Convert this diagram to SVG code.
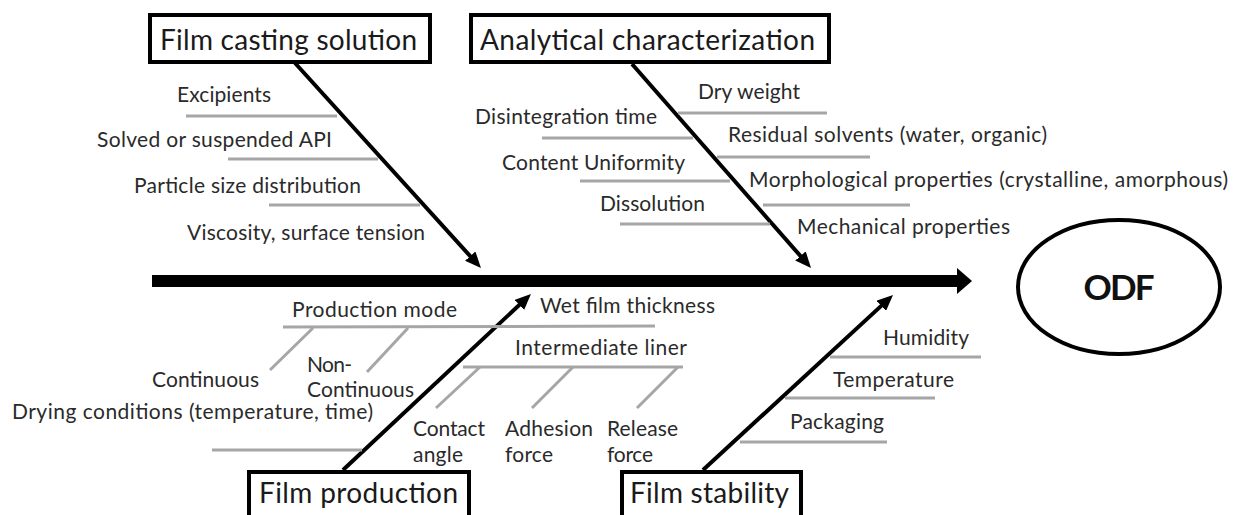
<svg xmlns="http://www.w3.org/2000/svg" width="1235" height="515" viewBox="0 0 1235 515">
<style>
.t{font-family:Lato,"Open Sans","Liberation Sans",sans-serif;font-size:21px;fill:#2a2a2a}
.bt{font-family:Lato,"Open Sans","Liberation Sans",sans-serif;font-size:28px;fill:#1a1a1a}
.box{fill:#fff;stroke:#000;stroke-width:4}
.g{stroke:#a6a6a6;stroke-width:3;fill:none}
.d{stroke:#000;stroke-width:4;fill:none;marker-end:url(#ah)}
</style>
<defs>
<marker id="ah" markerUnits="userSpaceOnUse" markerWidth="16" markerHeight="14" refX="4" refY="7" orient="auto"><path d="M0,0 L16,7 L0,14 z" fill="#000"/></marker>
<marker id="big" markerUnits="userSpaceOnUse" markerWidth="15" markerHeight="26" refX="0" refY="13" orient="auto"><path d="M0,0 L15,13 L0,26 z" fill="#000"/></marker>
</defs>
<rect width="1235" height="515" fill="#fff"/>
<g id="connectors">
<line x1="152" y1="281" x2="957" y2="281" stroke="#000" stroke-width="12" marker-end="url(#big)"/>
<line class="d" x1="295" y1="63" x2="472.9" y2="259.1"/>
<line class="d" x1="632" y1="64" x2="803.1" y2="259"/>
<line class="d" x1="343" y1="470" x2="522.2" y2="302.2"/>
<line class="d" x1="703" y1="470" x2="884.2" y2="303.1"/>
</g>
<g id="film-casting-solution">
<rect class="box" x="150" y="15" width="280" height="47"/>
<text class="bt" x="160" y="50" textLength="257">Film casting solution</text>
<line class="g" x1="186" y1="116" x2="337" y2="116"/>
<line class="g" x1="228" y1="159" x2="378" y2="159"/>
<line class="g" x1="269" y1="205" x2="420" y2="205"/>
<text class="t" x="177" y="102" textLength="94">Excipients</text>
<text class="t" x="97" y="147" textLength="235">Solved or suspended API</text>
<text class="t" x="134" y="193" textLength="227">Particle size distribution</text>
<text class="t" x="187" y="240" textLength="238">Viscosity, surface tension</text>
</g>
<g id="analytical-characterization">
<rect class="box" x="471" y="15" width="358" height="47"/>
<text class="bt" x="480" y="50" textLength="335">Analytical characterization</text>
<line class="g" x1="678" y1="113" x2="827" y2="113"/>
<line class="g" x1="542" y1="138" x2="693" y2="138"/>
<line class="g" x1="717" y1="157" x2="870" y2="157"/>
<line class="g" x1="580" y1="181" x2="730" y2="181"/>
<line class="g" x1="763" y1="205" x2="910" y2="205"/>
<line class="g" x1="620" y1="224" x2="770" y2="224"/>
<text class="t" x="698" y="99" textLength="102">Dry weight</text>
<text class="t" x="475" y="124" textLength="182">Disintegration time</text>
<text class="t" x="728" y="142" textLength="319">Residual solvents (water, organic)</text>
<text class="t" x="502" y="170" textLength="183">Content Uniformity</text>
<text class="t" x="749" y="187" textLength="479">Morphological properties (crystalline, amorphous)</text>
<text class="t" x="600" y="211" textLength="105">Dissolution</text>
<text class="t" x="797" y="234" textLength="213">Mechanical properties</text>
</g>
<g id="film-production">
<rect class="box" x="249" y="472" width="220" height="60"/>
<text class="bt" x="259" y="503" textLength="199">Film production</text>
<line class="g" x1="283" y1="327" x2="655" y2="326"/>
<line class="g" x1="313" y1="328" x2="270" y2="370"/>
<line class="g" x1="408" y1="328" x2="367" y2="372"/>
<line class="g" x1="212" y1="450" x2="362" y2="450"/>
<line class="g" x1="463" y1="367" x2="683" y2="367"/>
<line class="g" x1="480" y1="367" x2="436" y2="408"/>
<line class="g" x1="573" y1="367" x2="532" y2="408"/>
<line class="g" x1="678" y1="367" x2="637" y2="408"/>
<text class="t" x="292" y="317" textLength="165">Production mode</text>
<text class="t" x="540" y="313" textLength="175">Wet film thickness</text>
<text class="t" x="152" y="387" textLength="107">Continuous</text>
<text class="t" x="307" y="372" textLength="45">Non-</text>
<text class="t" x="307" y="397" textLength="107">Continuous</text>
<text class="t" x="12" y="419" textLength="361">Drying conditions (temperature, time)</text>
<text class="t" x="515" y="355" textLength="172">Intermediate liner</text>
<text class="t" x="413" y="436" textLength="72">Contact</text>
<text class="t" x="413" y="462" textLength="50">angle</text>
<text class="t" x="505" y="436" textLength="88">Adhesion</text>
<text class="t" x="505" y="462" textLength="48">force</text>
<text class="t" x="607" y="436" textLength="71">Release</text>
<text class="t" x="607" y="462" textLength="46">force</text>
</g>
<g id="film-stability">
<rect class="box" x="622" y="472" width="179" height="60"/>
<text class="bt" x="630" y="503" textLength="159">Film stability</text>
<line class="g" x1="830" y1="357" x2="981" y2="357"/>
<line class="g" x1="785" y1="398" x2="935" y2="398"/>
<line class="g" x1="740" y1="442" x2="887" y2="442"/>
<text class="t" x="883" y="345" textLength="86">Humidity</text>
<text class="t" x="833" y="387" textLength="121">Temperature</text>
<text class="t" x="790" y="429" textLength="94">Packaging</text>
</g>
<g id="odf">
<ellipse cx="1119" cy="287" rx="101" ry="67" fill="#fff" stroke="#000" stroke-width="4"/>
<text x="1119" y="300" text-anchor="middle" font-family="Lato,'Open Sans','Liberation Sans',sans-serif" font-weight="bold" font-size="35" fill="#111" textLength="71">ODF</text>
</g>
</svg>
